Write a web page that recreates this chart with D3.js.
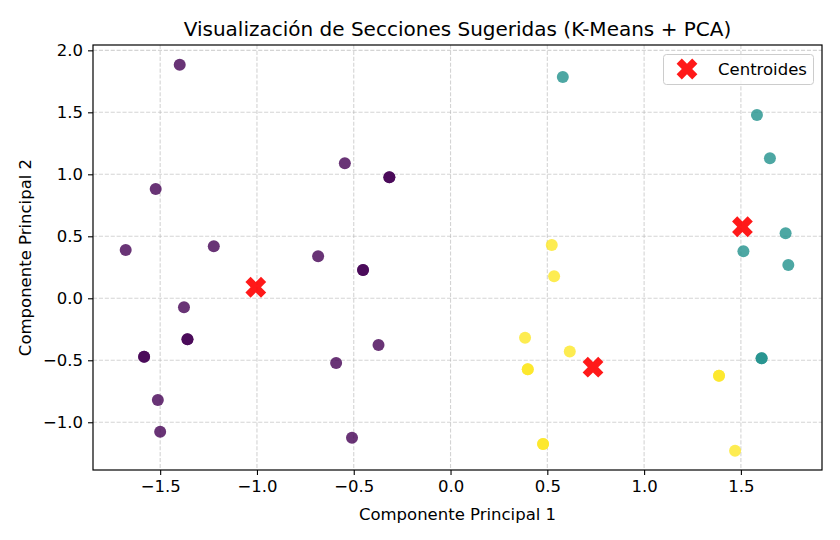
<!DOCTYPE html>
<html>
<head>
<meta charset="utf-8">
<script src="https://cdn.jsdelivr.net/npm/d3@7.9.0/dist/d3.min.js"></script>
<style>
  body { margin: 0; background: #fff; }
  text { font-family: 'DejaVu Sans', sans-serif; fill: #000; }
</style>
</head>
<body>
<div id="chart"></div>
<script>
// PCA coordinates, one cluster per array (repeated rows are overlapping sections)
const cluster0 = [
  [-1.399, 1.884], [-1.523, 0.881], [-1.678, 0.390], [-1.223, 0.420],
  [-1.377, -0.073], [-1.359, -0.331], [-1.359, -0.331], [-1.583, -0.471],
  [-1.583, -0.471], [-1.512, -0.820], [-1.500, -1.076], [-0.546, 1.089],
  [-0.316, 0.976], [-0.316, 0.976], [-0.684, 0.339], [-0.452, 0.228],
  [-0.452, 0.228], [-0.372, -0.377], [-0.591, -0.522], [-0.509, -1.124],
];
const cluster1 = [
  [0.580, 1.785], [1.583, 1.478], [1.650, 1.129], [1.731, 0.524],
  [1.513, 0.379], [1.745, 0.269], [1.607, -0.484], [1.607, -0.484],
];
const cluster2 = [
  [0.523, 0.430], [0.535, 0.177], [0.385, -0.318], [0.399, -0.573],
  [0.399, -0.573], [0.478, -1.175], [0.478, -1.175], [0.616, -0.430],
  [1.387, -0.624], [1.387, -0.624], [1.470, -1.229],
];
const centroids = [[-1.006, 0.089], [1.508, 0.577], [0.736, -0.556]];
const clusterColors = ['#440154', '#21918c', '#fde725'];
const xTicks = [-1.5, -1.0, -0.5, 0.0, 0.5, 1.0, 1.5];
const yTicks = [-1.0, -0.5, 0.0, 0.5, 1.0, 1.5, 2.0];

const width = 840, height = 540;
const margin = { top: 45, right: 18, bottom: 70, left: 93 };
const usableArea = {
  left: margin.left,
  right: width - margin.right,
  top: margin.top,
  bottom: height - margin.bottom,
};

const svg = d3.select('#chart').append('svg')
  .attr('width', width).attr('height', height);

const xScale = d3.scaleLinear().domain([-1.847, 1.919])
  .range([usableArea.left, usableArea.right]);
const yScale = d3.scaleLinear().domain([-1.385, 2.043])
  .range([usableArea.bottom, usableArea.top]);

const fmt = (d) => d3.format('.1f')(d).replace('-', '\u2212');

// grid
const grid = svg.append('g').attr('class', 'grid')
  .attr('stroke', '#b0b0b0').attr('stroke-opacity', 0.55)
  .attr('stroke-width', 1.1).attr('stroke-dasharray', '4.1,1.8');
grid.selectAll('.gx').data(xTicks).join('line')
  .attr('x1', (d) => xScale(d)).attr('x2', (d) => xScale(d))
  .attr('y1', usableArea.top).attr('y2', usableArea.bottom);
grid.selectAll('.gy').data(yTicks).join('line')
  .attr('y1', (d) => yScale(d)).attr('y2', (d) => yScale(d))
  .attr('x1', usableArea.left).attr('x2', usableArea.right);

// points
const groups = [cluster0, cluster1, cluster2];
groups.forEach((pts, i) => {
  svg.append('g').selectAll('circle').data(pts).join('circle')
    .attr('cx', (d) => xScale(d[0]))
    .attr('cy', (d) => yScale(d[1]))
    .attr('r', 6)
    .attr('fill', clusterColors[i])
    .attr('fill-opacity', 0.8);
});

// centroids (filled X)
const xMark = d3.symbol().type(d3.symbolCross).size(270);
svg.append('g').selectAll('path').data(centroids).join('path')
  .attr('d', xMark)
  .attr('transform', (d) => `translate(${xScale(d[0])},${yScale(d[1])}) rotate(45)`)
  .attr('fill', 'red').attr('fill-opacity', 0.9);

// axes
const xAxis = svg.append('g')
  .attr('transform', `translate(0,${usableArea.bottom})`)
  .call(d3.axisBottom(xScale).tickValues(xTicks).tickFormat(fmt)
    .tickSize(5).tickPadding(5).tickSizeOuter(0));
const yAxis = svg.append('g')
  .attr('transform', `translate(${usableArea.left},0)`)
  .call(d3.axisLeft(yScale).tickValues(yTicks).tickFormat(fmt)
    .tickSize(5).tickPadding(5).tickSizeOuter(0));
[xAxis, yAxis].forEach((a) => {
  a.select('.domain').remove();
  a.selectAll('.tick line').attr('stroke', '#000').attr('stroke-width', 1.1);
  a.selectAll('.tick text').attr('font-size', 16.5).attr('font-family', 'DejaVu Sans');
});

// frame
svg.append('rect')
  .attr('x', usableArea.left).attr('y', usableArea.top)
  .attr('width', usableArea.right - usableArea.left)
  .attr('height', usableArea.bottom - usableArea.top)
  .attr('fill', 'none').attr('stroke', '#000').attr('stroke-width', 1.2);

// titles
const cx = (usableArea.left + usableArea.right) / 2;
svg.append('text').attr('x', cx).attr('y', 36)
  .attr('text-anchor', 'middle').attr('font-size', 20)
  .text('Visualización de Secciones Sugeridas (K-Means + PCA)');
svg.append('text').attr('x', cx).attr('y', 520)
  .attr('text-anchor', 'middle').attr('font-size', 16.5)
  .text('Componente Principal 1');
svg.append('text')
  .attr('transform', `translate(31,${(usableArea.top + usableArea.bottom) / 2}) rotate(-90)`)
  .attr('text-anchor', 'middle').attr('font-size', 16.5)
  .text('Componente Principal 2');

// legend
const legend = svg.append('g');
legend.append('rect')
  .attr('x', 663.5).attr('y', 54.5).attr('width', 150).attr('height', 30)
  .attr('rx', 3).attr('fill', '#fff').attr('fill-opacity', 0.8)
  .attr('stroke', '#cccccc');
legend.append('path').attr('d', xMark)
  .attr('transform', 'translate(687,69) rotate(45)')
  .attr('fill', 'red').attr('fill-opacity', 0.9);
legend.append('text').attr('x', 718).attr('y', 75)
  .attr('font-size', 16.5).text('Centroides');
</script>
</body>
</html>
